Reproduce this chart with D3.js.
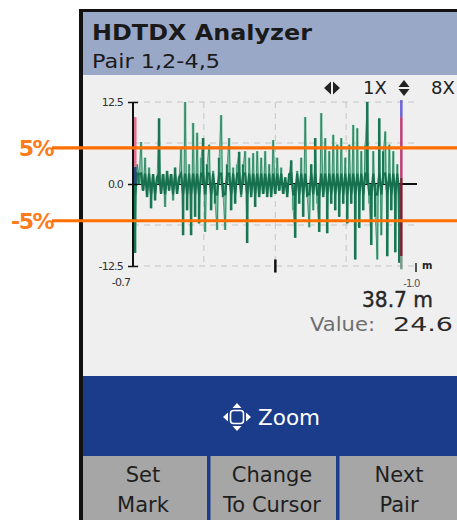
<!DOCTYPE html>
<html><head><meta charset="utf-8">
<script src="https://cdn.jsdelivr.net/npm/d3@7/dist/d3.min.js"></script>
<style>html,body{margin:0;padding:0;background:#fff;overflow:hidden}</style>
</head><body>
<svg id="c" width="457" height="520"></svg>
<script>
// ---------- data ----------
const title = "HDTDX Analyzer";
const subtitle = "Pair 1,2-4,5";
const yTickValues = [12.5, 0.0, -12.5];
const yTickLabels = ["12.5", "0.0", "-12.5"];
const yGridValues = [12.5, 6.25, -6.25, -12.5];
const xGridValues = [9.7, 20.2, 30.6];
const xDomain = [-0.7, 41.0];
const sampleRange = [-0.4, 38.4];
const xStartLabel = "-0.7";
const xEndLabel = "-1.0";
const unitLabel = "m";
const markDistance = -0.4;
const cursorDistance = 38.7;
const cursorValue = 24.6;
const thresholdValues = [5.5, -5.6];
const thresholdLabels = ["5%", "-5%"];
const zoomLabels = ["1X", "8X"];
const bandLabel = "Zoom";
const buttons = [["Set", "Mark"], ["Change", "To Cursor"], ["Next", "Pair"]];
const signal = [
  -10.5, 3, 1.5, 6.4, -1, 4, -2, 2.5, -3.7, 1.5,
  -2.5, 1, 10, -1.5, 1.5, -3.5, 2, -1, 1.5, -2.5,
  2.5, -1.5, 1, 5.5, -7.8, 12.5, -4, 3, -7.8, 9.3,
  -5, 7.8, -6, 4, 7, -7.3, 3, 6, -4, 2,
  -3, -7, 4, 10.5, -2, -7, 3, 7, -4, 2.5,
  -3, 3, 4.9, -2, 3, 5, -9, 4, -2, 4.7,
  -3.5, 5, -2, 4, -1.5, 5, -2, 3, -2, 6.7,
  -1.5, 4, -1, 2.5, -1.5, 1, -2, 1.5, 3.6, -4,
  -8.2, 2, -3, 4, -5, 10.2, -2, -6.6, 3, -4,
  7, -3, -7.3, 10.8, -2, 7, -7.5, 5, -3, 7.5,
  -4, 6, -5, 7, -3, 4, -6, 6, -3, 9,
  -11.5, 8.5, -6.7, 5, -4, 6, 12.5, -3, -9.3, 5,
  -5, -11.5, 10, -7.8, 5, 8, -11, 6, -4, 5,
  -10.4, 3, -12
];

// ---------- drawing ----------
const svg = d3.select("#c");
const font = "'DejaVu Sans', Verdana, sans-serif";
const blue = "#1b3b8b";

// frame & panels
svg.append("rect").attr("x", 82).attr("y", 11).attr("width", 375).attr("height", 64).attr("fill", "#9aa8c8");
svg.append("rect").attr("x", 82).attr("y", 75).attr("width", 375).attr("height", 301).attr("fill", "#efefef");
svg.append("rect").attr("x", 82).attr("y", 376).attr("width", 375).attr("height", 80).attr("fill", blue);
svg.append("rect").attr("x", 82).attr("y", 456).attr("width", 375).attr("height", 64).attr("fill", "#a6a6a6");
svg.append("rect").attr("x", 79).attr("y", 9).attr("width", 4).attr("height", 511).attr("fill", "#111");
svg.append("rect").attr("x", 79).attr("y", 9).attr("width", 378).attr("height", 3).attr("fill", "#111");

// header text
svg.append("text").attr("x", 92).attr("y", 40).attr("font-family", font).attr("font-weight", "bold")
  .attr("font-size", 22).attr("textLength", 220).attr("lengthAdjust", "spacingAndGlyphs")
  .attr("fill", "#1a1a1a").text(title);
svg.append("text").attr("x", 92).attr("y", 68).attr("font-family", font)
  .attr("font-size", 19).attr("textLength", 128).attr("lengthAdjust", "spacingAndGlyphs")
  .attr("fill", "#1a1a1a").text(subtitle);

// scales
const x = d3.scaleLinear().domain(xDomain).range([133, 417]);
const y = d3.scaleLinear().domain([-12.5, 12.5]).range([266, 102]);
const sx = d3.scaleLinear().domain([0, signal.length - 1]).range(sampleRange.map(x));

// grid
const g = svg.append("g");
g.selectAll(".hg").data(yGridValues).join("line")
  .attr("x1", x(xDomain[0])).attr("x2", x(xDomain[1]))
  .attr("y1", d => y(d)).attr("y2", d => y(d))
  .attr("stroke", "#c4c4c4").attr("stroke-width", 1).attr("stroke-dasharray", "6,5");
g.selectAll(".vg").data(xGridValues).join("line")
  .attr("x1", d => x(d)).attr("x2", d => x(d))
  .attr("y1", y(12.5)).attr("y2", y(-12.5))
  .attr("stroke", "#c4c4c4").attr("stroke-width", 1).attr("stroke-dasharray", "6,5");

// zero line
g.append("line").attr("x1", x(xDomain[0])).attr("x2", x(xDomain[1]))
  .attr("y1", y(0)).attr("y2", y(0)).attr("stroke", "#111").attr("stroke-width", 2);

// signal: spikes with alternating shades + thin trace
g.selectAll(".bar").data(signal).join("rect")
  .attr("x", (d, i) => sx(i) - 1.3)
  .attr("width", 2.6)
  .attr("y", d => y(Math.max(0, d)))
  .attr("height", d => Math.abs(y(d) - y(0)))
  .attr("fill", (d, i) => i % 2 ? "#79bfa0" : "#1b7654");
g.append("path").datum(signal)
  .attr("d", d3.line().x((d, i) => sx(i)).y(d => y(d)))
  .attr("fill", "none").attr("stroke", "#1b7654").attr("stroke-width", 0.9).attr("stroke-opacity", 0.75);
// dense trace band around zero
g.append("path").datum(signal)
  .attr("d", d3.line().x((d, i) => sx(i)).y(d => y(Math.max(-1.6, Math.min(1.6, d)))))
  .attr("fill", "none").attr("stroke", "#17704e").attr("stroke-width", 2.2);

// mark line (left)
const mx = x(markDistance);
g.append("line").attr("x1", mx).attr("x2", mx).attr("y1", y(10.2)).attr("y2", y(2.6))
  .attr("stroke", "#e2708e").attr("stroke-width", 3);
g.append("line").attr("x1", mx).attr("x2", mx).attr("y1", y(2.6)).attr("y2", y(0))
  .attr("stroke", "#2a4a7a").attr("stroke-width", 3);

// cursor line (right)
const cx = x(cursorDistance);
const cursorSegs = [[12.8, 10.2, "#6a62d6"], [10.2, 1, "#c23c78"], [1, -11, "#7a1f32"], [-11, -13, "#7a9a88"]];
g.selectAll(".cur").data(cursorSegs).join("line")
  .attr("x1", cx).attr("x2", cx).attr("y1", d => y(d[0])).attr("y2", d => y(d[1]))
  .attr("stroke", d => d[2]).attr("stroke-width", 2.5);

// y axis
const yAxis = d3.axisLeft(y).tickValues(yTickValues).tickSize(5)
  .tickFormat((d, i) => yTickLabels[i]);
const ya = svg.append("g").attr("transform", `translate(${x(xDomain[0])},0)`).call(yAxis);
ya.select(".domain").attr("stroke", "#111").attr("stroke-width", 2).attr("d", `M0,${y(12.5)}V${y(-12.5)}`);
ya.selectAll(".tick line").attr("x1", -5).attr("x2", 5).attr("stroke", "#111").attr("stroke-width", 1.5);
ya.selectAll(".tick text").attr("font-family", font).attr("font-size", 11).attr("fill", "#333")
  .attr("letter-spacing", "-0.8").attr("x", -10);

// bottom labels
svg.append("text").attr("x", x(xDomain[0]) - 12).attr("y", 286).attr("text-anchor", "middle")
  .attr("font-family", font).attr("font-size", 11).attr("letter-spacing", "-0.8").attr("fill", "#333").text(xStartLabel);
svg.append("text").attr("x", cx + 10).attr("y", 287).attr("text-anchor", "middle")
  .attr("font-family", font).attr("font-size", 10).attr("letter-spacing", "-0.8").attr("fill", "#555").text(xEndLabel);
svg.append("line").attr("x1", x(20.2)).attr("x2", x(20.2)).attr("y1", y(-11.5)).attr("y2", y(-13.5))
  .attr("stroke", "#111").attr("stroke-width", 2.5);
svg.append("line").attr("x1", 416).attr("x2", 416).attr("y1", 263).attr("y2", 272)
  .attr("stroke", "#222").attr("stroke-width", 1.5);
svg.append("text").attr("x", 422).attr("y", 269).attr("font-family", font).attr("font-weight", "bold")
  .attr("font-size", 10).attr("fill", "#222").text(unitLabel);

// zoom indicators
function lrArrow(cx0, cy0, col) {
  svg.append("path").attr("d", `M${cx0-8},${cy0} L${cx0-1},${cy0-6.5} L${cx0-1},${cy0+6.5} Z M${cx0+8},${cy0} L${cx0+1},${cy0-6.5} L${cx0+1},${cy0+6.5} Z`).attr("fill", col);
}
function udArrow(cx0, cy0, col) {
  svg.append("path").attr("d", `M${cx0},${cy0-8} L${cx0-5.5},${cy0-1} L${cx0+5.5},${cy0-1} Z M${cx0},${cy0+8} L${cx0-5.5},${cy0+1} L${cx0+5.5},${cy0+1} Z`).attr("fill", col);
}
lrArrow(332, 88, "#222");
udArrow(404, 88, "#222");
svg.append("text").attr("x", 363).attr("y", 94).attr("font-family", font).attr("font-size", 18).attr("fill", "#222").text(zoomLabels[0]);
svg.append("text").attr("x", 431).attr("y", 94).attr("font-family", font).attr("font-size", 18).attr("fill", "#222").text(zoomLabels[1]);

// readouts
svg.append("text").attr("x", 433).attr("y", 307).attr("text-anchor", "end").attr("font-family", font)
  .attr("font-size", 21).attr("textLength", 71).attr("lengthAdjust", "spacingAndGlyphs")
  .attr("fill", "#262626").attr("stroke", "#262626").attr("stroke-width", 0.4)
  .text(`${cursorDistance.toFixed(1)} m`);
svg.append("text").attr("x", 310).attr("y", 331).attr("font-family", font)
  .attr("font-size", 20).attr("textLength", 65).attr("lengthAdjust", "spacingAndGlyphs")
  .attr("fill", "#6e6e6e").text("Value:");
svg.append("text").attr("x", 393).attr("y", 331).attr("font-family", font)
  .attr("font-size", 20).attr("textLength", 60).attr("lengthAdjust", "spacingAndGlyphs")
  .attr("fill", "#2a2a2a").text(cursorValue.toFixed(1));

// thresholds (orange overlay)
const th = svg.append("g");
th.selectAll("line").data(thresholdValues).join("line")
  .attr("x1", 52).attr("x2", 457).attr("y1", d => y(d)).attr("y2", d => y(d))
  .attr("stroke", "#ff6e00").attr("stroke-width", 3.2);
th.selectAll("text").data(thresholdLabels).join("text")
  .attr("x", 53).attr("y", (d, i) => y(thresholdValues[i]) + 8).attr("text-anchor", "end")
  .attr("font-family", font).attr("font-weight", "bold").attr("font-size", 22)
  .attr("letter-spacing", "-1.5").attr("fill", "#ff7a1a").text(d => d);

// blue band with zoom icon
const zx = 237, zy = 417;
svg.append("rect").attr("x", zx - 6.5).attr("y", zy - 6.5).attr("width", 13).attr("height", 13).attr("rx", 3)
  .attr("fill", "none").attr("stroke", "#fff").attr("stroke-width", 1.6);
svg.append("path").attr("d",
  `M${zx},${zy-14} L${zx-4.5},${zy-9} L${zx+4.5},${zy-9} Z M${zx},${zy+14} L${zx-4.5},${zy+9} L${zx+4.5},${zy+9} Z ` +
  `M${zx-14},${zy} L${zx-9},${zy-4.5} L${zx-9},${zy+4.5} Z M${zx+14},${zy} L${zx+9},${zy-4.5} L${zx+9},${zy+4.5} Z`)
  .attr("fill", "#fff");
svg.append("text").attr("x", 258).attr("y", 425).attr("font-family", font).attr("font-size", 21)
  .attr("textLength", 62).attr("lengthAdjust", "spacingAndGlyphs")
  .attr("fill", "#fff").text(bandLabel);

// buttons
svg.selectAll(".div").data([209, 338]).join("rect")
  .attr("x", d => d - 2).attr("y", 456).attr("width", 3.5).attr("height", 64).attr("fill", blue);
const centers = [143, 272, 399];
buttons.forEach((b, i) => {
  b.forEach((t, j) => {
    svg.append("text").attr("x", centers[i]).attr("y", 482 + j * 30).attr("text-anchor", "middle")
      .attr("font-family", font).attr("font-size", 21).attr("fill", "#1e1e1e").text(t);
  });
});
</script>
</body></html>
